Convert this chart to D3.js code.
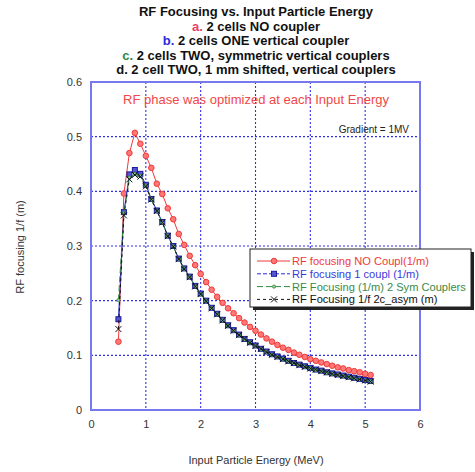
<!DOCTYPE html>
<html><head><meta charset="utf-8">
<script src="https://cdn.jsdelivr.net/npm/d3@7"></script>
<style>body{margin:0;background:#fff}svg{display:block}text{font-family:Arial,"Liberation Sans",sans-serif}</style>
</head><body><svg id="c" width="475" height="472"></svg>
<script>
const energy = [0.5,0.6,0.7,0.8,0.9,1.0,1.1,1.2,1.3,1.4,1.5,1.6,1.7,1.8,1.9,2.0,2.1,2.2,2.3,2.4,2.5,2.6,2.7,2.8,2.9,3.0,3.1,3.2,3.3,3.4,3.5,3.6,3.7,3.8,3.9,4.0,4.1,4.2,4.3,4.4,4.5,4.6,4.7,4.8,4.9,5.0,5.1];
const noCoupler = [0.125,0.396,0.470,0.507,0.487,0.465,0.443,0.414,0.395,0.369,0.349,0.322,0.302,0.282,0.265,0.249,0.234,0.220,0.207,0.196,0.186,0.177,0.168,0.160,0.152,0.145,0.138,0.131,0.125,0.119,0.114,0.110,0.105,0.101,0.097,0.093,0.090,0.087,0.084,0.081,0.078,0.076,0.073,0.071,0.069,0.066,0.064];
const oneCoupler = [0.166,0.362,0.431,0.439,0.432,0.412,0.386,0.365,0.344,0.319,0.300,0.277,0.259,0.244,0.227,0.213,0.200,0.187,0.176,0.165,0.155,0.146,0.138,0.130,0.124,0.118,0.112,0.107,0.102,0.098,0.094,0.090,0.086,0.083,0.080,0.077,0.074,0.072,0.069,0.067,0.065,0.063,0.061,0.059,0.057,0.055,0.053];
const symCouplers = [0.201,0.360,0.425,0.432,0.428,0.410,0.385,0.364,0.343,0.318,0.299,0.276,0.258,0.243,0.226,0.212,0.199,0.186,0.175,0.164,0.154,0.145,0.137,0.129,0.123,0.117,0.111,0.106,0.101,0.097,0.093,0.089,0.085,0.082,0.079,0.076,0.073,0.071,0.068,0.066,0.064,0.062,0.060,0.058,0.056,0.054,0.052];
const asymCouplers = [0.148,0.356,0.422,0.430,0.427,0.409,0.385,0.364,0.343,0.318,0.299,0.276,0.258,0.243,0.226,0.212,0.199,0.186,0.175,0.164,0.154,0.145,0.137,0.130,0.123,0.117,0.112,0.106,0.101,0.097,0.093,0.089,0.086,0.082,0.079,0.076,0.074,0.071,0.069,0.066,0.064,0.062,0.060,0.058,0.056,0.054,0.052];
const xTicks = [0,1,2,3,4,5,6];
const yTicks = [0,0.1,0.2,0.3,0.4,0.5,0.6];
const titleLines = [
  {pre:"", text:"RF Focusing vs. Input Particle Energy"},
  {pre:"a.", text:" 2 cells NO coupler", col:"#e8416a"},
  {pre:"b.", text:" 2 cells ONE vertical coupler", col:"#2a2ad8"},
  {pre:"c.", text:" 2 cells TWO, symmetric vertical couplers", col:"#2e8a3e"},
  {pre:"", text:"d. 2 cell TWO, 1 mm shifted, vertical couplers"}
];
const seriesNames = ["RF focusing NO Coupl(1/m)","RF focusing 1 coupl (1/m)","RF Focusing (1/m) 2 Sym Couplers","RF Focusing 1/f  2c_asym (m)"];

const svg = d3.select("#c");
const L=91,R=420,T=82,B=410;
const x = d3.scaleLinear().domain([0,6]).range([L,R]);
const y = d3.scaleLinear().domain([0,0.6]).range([B,T]);

titleLines.forEach((t,i)=>{
  const tx = svg.append("text").attr("x",256).attr("y",16+i*14.6).attr("text-anchor","middle")
    .attr("font-size",13).attr("font-weight","bold").attr("fill","#111");
  if(t.pre) tx.append("tspan").attr("fill",t.col).text(t.pre);
  tx.append("tspan").text(t.text);
});

const g = svg.append("g");
g.selectAll(".gx").data(xTicks.slice(1,-1)).join("line")
  .attr("x1",d=>x(d)).attr("x2",d=>x(d)).attr("y1",T).attr("y2",B)
  .attr("stroke","#3030e8").attr("stroke-width",1.1).attr("stroke-dasharray","2,2");
g.selectAll(".gy").data(yTicks.slice(1,-1)).join("line")
  .attr("y1",d=>y(d)).attr("y2",d=>y(d)).attr("x1",L).attr("x2",R)
  .attr("stroke","#3030e8").attr("stroke-width",1.1).attr("stroke-dasharray","2,2");
svg.append("rect").attr("x",L).attr("y",T).attr("width",R-L).attr("height",B-T)
  .attr("fill","none").attr("stroke","#7878ee").attr("stroke-width",2);

const xa = svg.append("g").attr("transform",`translate(0,${B})`)
  .call(d3.axisBottom(x).tickValues(xTicks).tickSize(0).tickPadding(10).tickFormat(d3.format("d")));
const ya = svg.append("g").attr("transform",`translate(${L},0)`)
  .call(d3.axisLeft(y).tickValues(yTicks).tickSize(0).tickPadding(9).tickFormat(d=>d===0?"0":d3.format(".1f")(d)));
[xa,ya].forEach(a=>{a.select(".domain").remove();a.selectAll("text").attr("font-size",11).attr("fill","#333").attr("font-family","Arial, Liberation Sans, sans-serif");});

svg.append("text").attr("x",256).attr("y",464).attr("text-anchor","middle").attr("font-size",11).attr("fill","#333").text("Input Particle Energy (MeV)");
svg.append("text").attr("transform","translate(24,247) rotate(-90)").attr("text-anchor","middle").attr("font-size",11).attr("fill","#333").text("RF focusing 1/f (m)");

svg.append("text").attr("x",256).attr("y",104).attr("text-anchor","middle").attr("font-size",13).attr("fill","#f04848").text("RF phase was optimized at each Input Energy");
svg.append("text").attr("x",409).attr("y",133).attr("text-anchor","end").attr("font-size",10).attr("fill","#222").text("Gradient = 1MV");

const styles = [
  {data:noCoupler, col:"#ee3a3a", dash:null, mk:"circle"},
  {data:oneCoupler, col:"#2a2ad0", dash:null, mk:"square"},
  {data:symCouplers, col:"#2e8a3e", dash:"6,3", mk:"dot"},
  {data:asymCouplers, col:"#111", dash:"3,3", mk:"x"}
];
function marker(sel, mk, col){
  if(mk==="circle") sel.append("circle").attr("r",2.8).attr("fill","#f77").attr("stroke",col).attr("stroke-width",1);
  else if(mk==="square") sel.append("rect").attr("x",-2.5).attr("y",-2.5).attr("width",5).attr("height",5).attr("fill","#5555cc").attr("stroke","#1a1aa0").attr("stroke-width",1);
  else if(mk==="dot") sel.append("circle").attr("r",1.6).attr("fill","#9c9").attr("stroke",col).attr("stroke-width",0.8);
  else sel.append("path").attr("d","M-3,-3L3,3M-3,3L3,-3").attr("stroke",col).attr("stroke-width",1);
}
const line = d3.line().x((d,i)=>x(energy[i])).y(d=>y(d));
styles.forEach(s=>{
  svg.append("path").datum(s.data).attr("d",line).attr("fill","none").attr("stroke",s.col)
    .attr("stroke-width",1).attr("stroke-dasharray",s.dash);
  svg.append("g").selectAll("g").data(s.data).join("g")
    .attr("transform",(d,i)=>`translate(${x(energy[i])},${y(d)})`)
    .each(function(){marker(d3.select(this), s.mk, s.col);});
});

const lg = svg.append("g");
lg.append("rect").attr("x",253).attr("y",252).attr("width",221).attr("height",58).attr("fill","#222");
lg.append("rect").attr("x",250).attr("y",249).attr("width",221).attr("height",58).attr("fill","#fff").attr("stroke","#222").attr("stroke-width",1);
const legCols = ["#ee3a3a","#3a3ad8","#3a8a4a","#111"];
seriesNames.forEach((n,i)=>{
  const yy = 261+i*12.8;
  lg.append("line").attr("x1",257).attr("x2",290).attr("y1",yy).attr("y2",yy).attr("stroke",styles[i].col).attr("stroke-width",1).attr("stroke-dasharray",i===1?"4,2":styles[i].dash);
  const m = lg.append("g").attr("transform",`translate(274,${yy})`);
  marker(m, styles[i].mk, styles[i].col);
  lg.append("text").attr("x",292).attr("y",yy+4).attr("font-size",11.1).attr("fill",legCols[i]).text(n);
});
</script></body></html>
